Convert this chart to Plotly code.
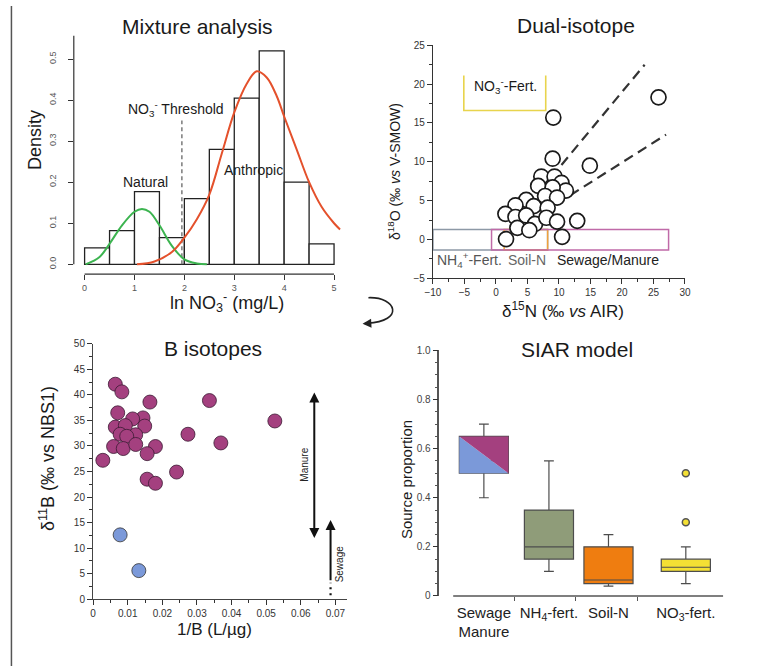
import plotly.graph_objects as go

W, H = 782, 672
FONT = "Liberation Sans, Arial, sans-serif"

# ---------------- Panel 1: Mixture analysis ----------------
hist_left = [0.0, 0.5, 1.0, 1.5, 2.0, 2.5, 3.0, 3.5, 4.0, 4.5]
hist_density = [0.04, 0.082, 0.177, 0.065, 0.16, 0.28, 0.405, 0.52, 0.20, 0.05]
bin_width = 0.5
natural_x = [0.02, 0.3, 0.5, 0.75, 1.0, 1.15, 1.3, 1.5, 1.75, 2.0, 2.25, 2.45]
natural_y = [0.0, 0.018, 0.05, 0.095, 0.128, 0.135, 0.128, 0.095, 0.045, 0.012, 0.002, 0.0]
anthropic_x = [1.05, 1.4, 1.75, 2.0, 2.25, 2.5, 2.75, 3.0, 3.25, 3.45, 3.65, 3.85, 4.0, 4.25, 4.5, 4.75, 5.0, 5.12]
anthropic_y = [0.0, 0.007, 0.03, 0.065, 0.11, 0.17, 0.27, 0.37, 0.44, 0.47, 0.455, 0.41, 0.36, 0.28, 0.2, 0.14, 0.1, 0.085]
threshold_x = 1.95
threshold_top = 0.35
p1_xticks = [0, 1, 2, 3, 4, 5]
p1_yticks = [0.0, 0.1, 0.2, 0.3, 0.4, 0.5]

# ---------------- Panel 2: Dual-isotope ----------------
d15N = [25.8, 9.1, 9.0, 14.9, 7.2, 9.3, 10.4, 6.7, 11.1, 9.0, 7.8, 9.7, 4.8, 3.1, 6.0, 8.2,
        1.5, 3.1, 4.8, 6.2, 8.0, 9.7, 12.9, 3.4, 5.3, 1.6, 10.5]
d18O = [18.3, 15.7, 10.4, 9.5, 8.1, 8.1, 7.3, 6.9, 6.3, 6.7, 5.6, 5.4, 5.1, 4.4, 4.3, 4.1,
        3.3, 2.9, 3.1, 2.0, 2.8, 2.3, 2.4, 1.5, 1.2, 0.05, 0.35]
trend_upper_x = [10.4, 23.6]
trend_upper_y = [9.6, 22.5]
trend_lower_x = [11.8, 27.0]
trend_lower_y = [5.7, 13.5]
no3fert_x = [-5.1, 7.9]
no3fert_y = [16.6, 21.1]
nh4fert_x = [-10.0, 8.2]
soiln_x = [1.3, 8.2]
sewage_x = [-0.7, 27.4]
source_y = [-1.35, 1.3]

# ---------------- Panel 3: B isotopes ----------------
invB_manure = [0.0064, 0.0083, 0.0071, 0.0164, 0.0336, 0.0525, 0.0144, 0.0114, 0.0064, 0.0093,
               0.0149, 0.0078, 0.0123, 0.0097, 0.0274, 0.0059, 0.0087, 0.0123, 0.0180, 0.0369,
               0.0156, 0.0028, 0.0241, 0.0156, 0.0180]
d11B_manure = [42.1, 40.6, 36.5, 38.6, 38.9, 34.9, 35.5, 35.3, 33.7, 34.0,
               33.9, 32.3, 32.2, 31.9, 32.3, 29.9, 29.5, 30.3, 29.9, 30.6,
               28.5, 27.2, 24.9, 23.5, 22.7]
invB_sewage = [0.0078, 0.0132]
d11B_sewage = [12.6, 5.6]
manure_range = [11.7, 40.5]
sewage_range = [3.4, 15.5]
sewage_dots = [0.8, 3.2]
p3_xticks = [0, 0.01, 0.02, 0.03, 0.04, 0.05, 0.06, 0.07]
p3_xticktext = ["0", "0.01", "0.02", "0.03", "0.04", "0.05", "0.06", "0.07"]

# ---------------- Panel 4: SIAR model ----------------
siar_labels = ["Sewage<br>Manure", "NH<sub>4</sub>-fert.", "Soil-N", "NO<sub>3</sub>-fert."]
siar_pos = [0.5, 1.56, 2.53, 3.79]
siar_q1 = [0.50, 0.15, 0.05, 0.10]
siar_median = [0.55, 0.20, 0.065, 0.117]
siar_q3 = [0.65, 0.35, 0.20, 0.15]
siar_low = [0.40, 0.10, 0.04, 0.05]
siar_high = [0.70, 0.55, 0.25, 0.20]
siar_colors = [None, "#8f9c79", "#ef7d10", "#f4e034"]
no3_outliers = [0.30, 0.50]
siar_sep = [1, 2, 3]
p4_yticks = [0, 0.2, 0.4, 0.6, 0.8, 1.0]
p4_yticktext = ["0", "0.2", "0.4", "0.6", "0.8", "1.0"]
box_w = 0.8

MAG = "#a4407f"
BLUE = "#7b99d9"


def px(x):
    return x / W


def py(y):
    return 1 - y / H


fig = go.Figure()

# Panel 1 traces
centers = [l + bin_width / 2 for l in hist_left]
fig.add_trace(go.Bar(x=centers, y=hist_density, width=bin_width,
                     marker=dict(color="white", line=dict(color="#222", width=1.3)),
                     xaxis="x", yaxis="y", showlegend=False))
fig.add_trace(go.Scatter(x=[threshold_x, threshold_x], y=[0, threshold_top], mode="lines",
                         line=dict(color="#666", width=1.3, dash="4px,3px"),
                         xaxis="x", yaxis="y", showlegend=False))
fig.add_trace(go.Scatter(x=natural_x, y=natural_y, mode="lines", line=dict(color="#3cb450", width=2, shape="spline"),
                         xaxis="x", yaxis="y", showlegend=False))
fig.add_trace(go.Scatter(x=anthropic_x, y=anthropic_y, mode="lines", line=dict(color="#e4512c", width=2, shape="spline"),
                         xaxis="x", yaxis="y", showlegend=False))

# Panel 2 traces
fig.add_trace(go.Scatter(x=[no3fert_x[0], no3fert_x[0], no3fert_x[1], no3fert_x[1]],
                         y=[no3fert_y[1], no3fert_y[0], no3fert_y[0], no3fert_y[1]],
                         mode="lines", line=dict(color="#e8d44d", width=1.6),
                         xaxis="x2", yaxis="y2", showlegend=False))
for tx, ty in [(trend_upper_x, trend_upper_y), (trend_lower_x, trend_lower_y)]:
    fig.add_trace(go.Scatter(x=tx, y=ty, mode="lines", line=dict(color="#333", width=2.2, dash="10px,6px"),
                             xaxis="x2", yaxis="y2", showlegend=False))
fig.add_trace(go.Scatter(x=d15N, y=d18O, mode="markers",
                         marker=dict(size=15, color="white", line=dict(color="#1a1a1a", width=1.7)),
                         xaxis="x2", yaxis="y2", showlegend=False))

# Panel 3 traces
fig.add_trace(go.Scatter(x=invB_manure, y=d11B_manure, mode="markers",
                         marker=dict(size=14, color=MAG, line=dict(color="#3b1a33", width=0.8)),
                         xaxis="x3", yaxis="y3", showlegend=False))
fig.add_trace(go.Scatter(x=invB_sewage, y=d11B_sewage, mode="markers",
                         marker=dict(size=14, color=BLUE, line=dict(color="#333", width=0.8)),
                         xaxis="x3", yaxis="y3", showlegend=False))
fig.add_trace(go.Scatter(x=[0.0686, 0.0686], y=sewage_dots, mode="lines",
                         line=dict(color="#111", width=2.2, dash="2px,4px"),
                         xaxis="x3", yaxis="y3", showlegend=False))

# Panel 4 traces
left = siar_pos[0] - box_w / 2
right = siar_pos[0] + box_w / 2
fig.add_trace(go.Scatter(x=[left, left, right, left], y=[siar_q3[0], siar_q1[0], siar_q1[0], siar_q3[0]],
                         fill="toself", fillcolor=BLUE, mode="lines", line=dict(width=0, color=BLUE),
                         xaxis="x4", yaxis="y4", showlegend=False))
fig.add_trace(go.Scatter(x=[left, right, right, left], y=[siar_q3[0], siar_q3[0], siar_q1[0], siar_q3[0]],
                         fill="toself", fillcolor=MAG, mode="lines", line=dict(width=0, color=MAG),
                         xaxis="x4", yaxis="y4", showlegend=False))
for i in range(4):
    fig.add_trace(go.Box(x=[siar_pos[i]], q1=[siar_q1[i]], median=[siar_median[i]], q3=[siar_q3[i]],
                         lowerfence=[siar_low[i]], upperfence=[siar_high[i]], width=box_w, whiskerwidth=0.2,
                         fillcolor=siar_colors[i] if siar_colors[i] else "rgba(0,0,0,0)",
                         line=dict(color="#4d4d4d", width=1.2), boxpoints=False,
                         xaxis="x4", yaxis="y4", showlegend=False))
fig.add_trace(go.Scatter(x=[siar_pos[3]] * len(no3_outliers), y=no3_outliers, mode="markers",
                         marker=dict(size=7, color="#f4e034", line=dict(color="#555", width=1.5)),
                         xaxis="x4", yaxis="y4", showlegend=False))

tickfont_small = dict(family=FONT, size=10, color="#333")
common_ax = dict(showgrid=False, zeroline=False, ticks="outside", tickcolor="#333")

layout = dict(
    width=W, height=H, margin=dict(l=0, r=0, t=0, b=0),
    paper_bgcolor="white", plot_bgcolor="rgba(0,0,0,0)",
    font=dict(family=FONT, color="#222", size=12),
    boxmode="overlay", showlegend=False,
    xaxis=dict(domain=[px(67), px(345)], range=[-0.2165, 5.256], anchor="y", tickvals=p1_xticks,
               ticklen=5, showline=False, tickfont=dict(family=FONT, size=9, color="#555"), **common_ax),
    yaxis=dict(domain=[py(273), py(30)], range=[-0.0239, 0.5574], anchor="x", tickvals=p1_yticks,
               ticktext=["%.1f" % v for v in p1_yticks], tickangle=-90, ticklabelstandoff=8,
               ticklen=5, showline=False, tickfont=dict(family=FONT, size=9, color="#555"), **common_ax),
    xaxis2=dict(domain=[px(432.7), px(689.3)], range=[-10, 30], anchor="y2", dtick=5, tick0=0,
                ticklen=5, showline=True, linecolor="#333", linewidth=1.2, tickfont=tickfont_small,
                minor=dict(dtick=2.5, tick0=0, ticks="outside", ticklen=3, tickcolor="#333"), **common_ax),
    yaxis2=dict(domain=[py(277.3), py(40)], range=[-5, 25], anchor="x2", dtick=5, tick0=0,
                ticklen=5, showline=True, linecolor="#333", linewidth=1.2, tickfont=tickfont_small,
                minor=dict(dtick=2.5, tick0=0, ticks="outside", ticklen=3, tickcolor="#333"), **common_ax),
    xaxis3=dict(domain=[px(86.7), px(345)], range=[0, 0.0733], anchor="y3", tickvals=p3_xticks,
                ticktext=p3_xticktext, ticklen=5, showline=True, linecolor="#444", linewidth=1.3,
                tickfont=dict(family=FONT, size=10, color="#333"),
                minor=dict(dtick=0.005, tick0=0, ticks="outside", ticklen=3, tickcolor="#333"), **common_ax),
    yaxis3=dict(domain=[py(604), py(344)], range=[0, 50], anchor="x3", dtick=5, tick0=0,
                ticklen=5, showline=True, linecolor="#444", linewidth=1.3,
                tickfont=dict(family=FONT, size=10, color="#333"),
                minor=dict(dtick=2.5, tick0=0, ticks="outside", ticklen=3, tickcolor="#333"), **common_ax),
    xaxis4=dict(domain=[px(439.3), px(728.3)], range=[-0.224, 4.4], anchor="y4", tickvals=siar_pos,
                ticktext=siar_labels, showline=False, showgrid=False, zeroline=False, ticks="",
                ticklabelstandoff=6,
                tickfont=dict(family=FONT, size=15, color="#222"),
                minor=dict(tickvals=siar_sep, ticks="outside", ticklen=4, tickcolor="#555", tickwidth=1.3)),
    yaxis4=dict(domain=[py(600.7), py(350.7)], range=[0, 1.0], anchor="x4", tickvals=p4_yticks,
                ticktext=p4_yticktext, ticklen=5, showline=True, linecolor="#555", linewidth=1.5,
                tickfont=dict(family=FONT, size=10, color="#444"),
                minor=dict(tickmode="linear", tick0=0, dtick=0.05, ticks="outside", ticklen=3, tickcolor="#555"),
                **common_ax),
)
fig.update_layout(**layout)

shapes = []
# Panel 1 R-style axis lines
shapes.append(dict(type="line", xref="x", yref="y domain", x0=0, x1=5, y0=0, y1=0,
                   line=dict(color="#333", width=1.2)))
shapes.append(dict(type="line", xref="x domain", yref="y", x0=0, x1=0, y0=0, y1=0.5574,
                   line=dict(color="#333", width=1.2)))
# Panel 2 source boxes
for xs, col in [(nh4fert_x, "#8d99a6"), (soiln_x, "#f0a23c"), (sewage_x, "#c06aa8")]:
    shapes.append(dict(type="rect", xref="x2", yref="y2", x0=xs[0], x1=xs[1], y0=source_y[0], y1=source_y[1],
                       line=dict(color=col, width=1.5), layer="below"))
# Panel 4 x axis line
shapes.append(dict(type="line", xref="x4", yref="y4 domain", x0=0, x1=4.4, y0=0, y1=0,
                   line=dict(color="#555", width=1.5)))
# Figure left border
shapes.append(dict(type="line", xref="paper", yref="paper", x0=px(3.5), x1=px(3.5), y0=0, y1=1,
                   line=dict(color="#555", width=1.5)))
# curved arrow between panels
shapes.append(dict(type="path", xref="paper", yref="paper",
                   path="M %f,%f C %f,%f %f,%f %f,%f" % (px(367), py(297), px(396), py(296), px(404), py(321),
                                                           px(366), py(323)),
                   line=dict(color="#222", width=1.6)))
fig.update_layout(shapes=shapes)

ann = []


def title(text, x, y, size=21):
    ann.append(dict(text=text, x=px(x), y=py(y), xref="paper", yref="paper", showarrow=False,
                    xanchor="center", yanchor="middle", font=dict(family=FONT, size=size, color="#1a1a1a")))


def rtitle(text, x, y, size):
    ann.append(dict(text=text, x=px(x), y=py(y), xref="paper", yref="paper", showarrow=False, textangle=-90,
                    xanchor="center", yanchor="middle", font=dict(family=FONT, size=size, color="#1a1a1a")))


title("Mixture analysis", 193, 21)
title("Dual-isotope", 578, 20)
title("B isotopes", 209, 349)
title("SIAR model", 579, 350)

title("ln NO<sub>3</sub><sup>-</sup> (mg/L)", 223, 302, 18)
rtitle("Density", 27, 137, 18)
title("δ<sup>15</sup>N (‰ <i>vs</i> AIR)", 565, 310, 17)
rtitle("δ<sup>18</sup>O (‰ <i>vs</i> V-SMOW)", 393, 168, 14)
title("1/B (L/µg)", 210, 635, 17)
rtitle("δ<sup>11</sup>B (‰ vs NBS1)", 40, 461, 18)
rtitle("Source proportion", 406, 482, 15)


def dtext(text, x, y, xr, yr, size, color="#1a1a1a", angle=0):
    ann.append(dict(text=text, x=x, y=y, xref=xr, yref=yr, showarrow=False, textangle=angle,
                    xanchor="center", yanchor="middle", font=dict(family=FONT, size=size, color=color)))


dtext("NO<sub>3</sub><sup>-</sup> Threshold", 1.83, 0.378, "x", "y", 14)
dtext("Natural", 1.22, 0.201, "x", "y", 14)
dtext("Anthropic", 3.39, 0.23, "x", "y", 14)
dtext("NO<sub>3</sub><sup>-</sup>-Fert.", 1.5, 19.7, "x2", "y2", 14)
dtext("NH<sub>4</sub><sup>+</sup>-Fert.", -4.2, -2.6, "x2", "y2", 14, "#555")
dtext("Soil-N", 4.97, -2.6, "x2", "y2", 14, "#666")
dtext("Sewage/Manure", 17.75, -2.6, "x2", "y2", 14, "#222")
dtext("Manure", 0.0610, 26.4, "x3", "y3", 10, "#222", -90)
dtext("Sewage", 0.0713, 7.0, "x3", "y3", 10, "#222", -90)

# Manure double arrow
ann.append(dict(x=0.0639, y=manure_range[1], ax=0.0639, ay=manure_range[0], xref="x3", yref="y3",
                axref="x3", ayref="y3", text="", showarrow=True, arrowhead=2, startarrowhead=2,
                arrowside="end+start", arrowsize=1, startarrowsize=1, arrowwidth=2, arrowcolor="#111",
                font=dict(size=10)))
# Sewage arrow
ann.append(dict(x=0.0686, y=sewage_range[1], ax=0.0686, ay=sewage_range[0], xref="x3", yref="y3",
                axref="x3", ayref="y3", text="", showarrow=True, arrowhead=2, arrowsize=1,
                arrowwidth=2, arrowcolor="#111", font=dict(size=10)))
# curved arrow head
ann.append(dict(x=px(361), y=py(323.5), xref="paper", yref="paper", ax=9, ay=-0.5, text="",
                showarrow=True, arrowhead=2, arrowsize=1.1, arrowwidth=1.6, arrowcolor="#222",
                font=dict(size=10)))

fig.update_layout(annotations=ann)
fig.write_html("out.html")
